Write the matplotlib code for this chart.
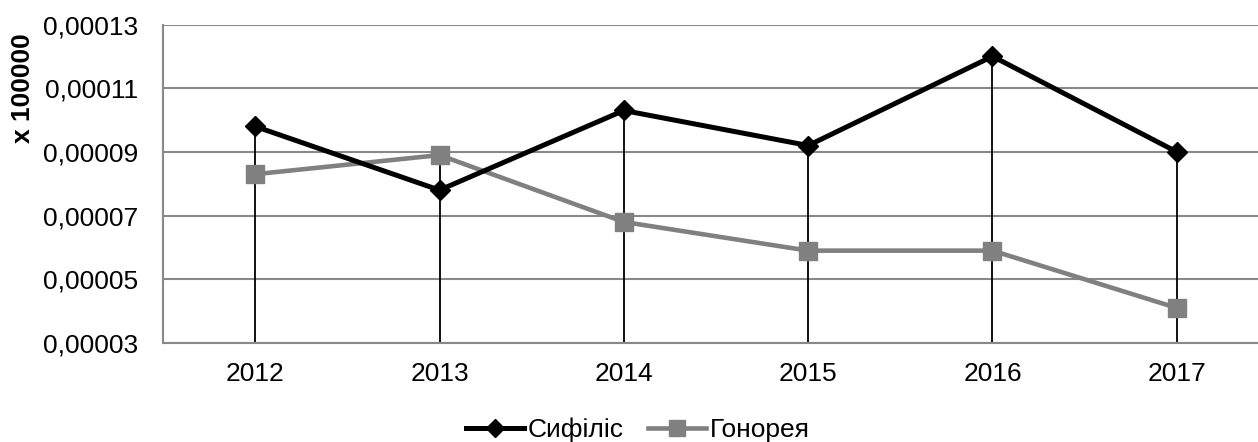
import matplotlib
matplotlib.use("Agg")
import matplotlib.pyplot as plt
from matplotlib.ticker import FuncFormatter

years = ["2012", "2013", "2014", "2015", "2016", "2017"]
syphilis = [0.000098, 0.000078, 0.000103, 0.000092, 0.000120, 0.000090]
gonorrhea = [0.000083, 0.000089, 0.000068, 0.000059, 0.000059, 0.000041]
y_ticks = [0.00003, 0.00005, 0.00007, 0.00009, 0.00011, 0.00013]

plt.rcParams["font.family"] = ["Liberation Sans", "DejaVu Sans"]

fig = plt.figure(figsize=(12.58, 4.42), dpi=100)
W, H = 1258, 442
ax = fig.add_axes([163 / W, 99 / H, (1269 - 163) / W, 318.5 / H])

x = list(range(len(years)))

# drop lines from the higher point down to the axis
for i in x:
    top = max(syphilis[i], gonorrhea[i])
    ax.plot([i, i], [y_ticks[0], top], color="black", lw=1.3, zorder=2)

ax.plot(x, gonorrhea, color="#808080", lw=3.3, marker="s", ms=13,
        label="Гонорея", zorder=3)
ax.plot(x, syphilis, color="black", lw=3.6, marker="D", ms=10,
        label="Сифіліс", zorder=4)

ax.set_xlim(-0.5, len(years) - 0.5)
ax.set_ylim(y_ticks[0], y_ticks[-1])
ax.set_yticks(y_ticks)
ax.yaxis.set_major_formatter(FuncFormatter(lambda v, p: f"{v:.5f}".replace(".", ",")))
ax.set_xticks(x)
ax.set_xticklabels(years)
ax.tick_params(axis="both", length=0, labelsize=19)
ax.tick_params(axis="y", pad=18)
ax.tick_params(axis="x", pad=14)

ax.grid(axis="y", color="#898989", lw=1.5, zorder=0)
for side in ["top", "right"]:
    ax.spines[side].set_visible(False)
for side in ["left", "bottom"]:
    ax.spines[side].set_color("#898989")
    ax.spines[side].set_linewidth(1.5)

fig.text(23 / W, 1 - 88 / H, "x 100000", rotation=90, fontsize=19,
         fontweight="bold", ha="center", va="center")

handles, labels = ax.get_legend_handles_labels()
fig.legend(handles[::-1], labels[::-1], loc="center left", ncol=2, frameon=False,
           bbox_to_anchor=(466 / W, 1 - 430 / H), fontsize=19,
           handlelength=2.2, handletextpad=0.12, columnspacing=0.95,
           borderpad=0, borderaxespad=0, markerscale=0.9)

fig.savefig("out.png", dpi=100)
